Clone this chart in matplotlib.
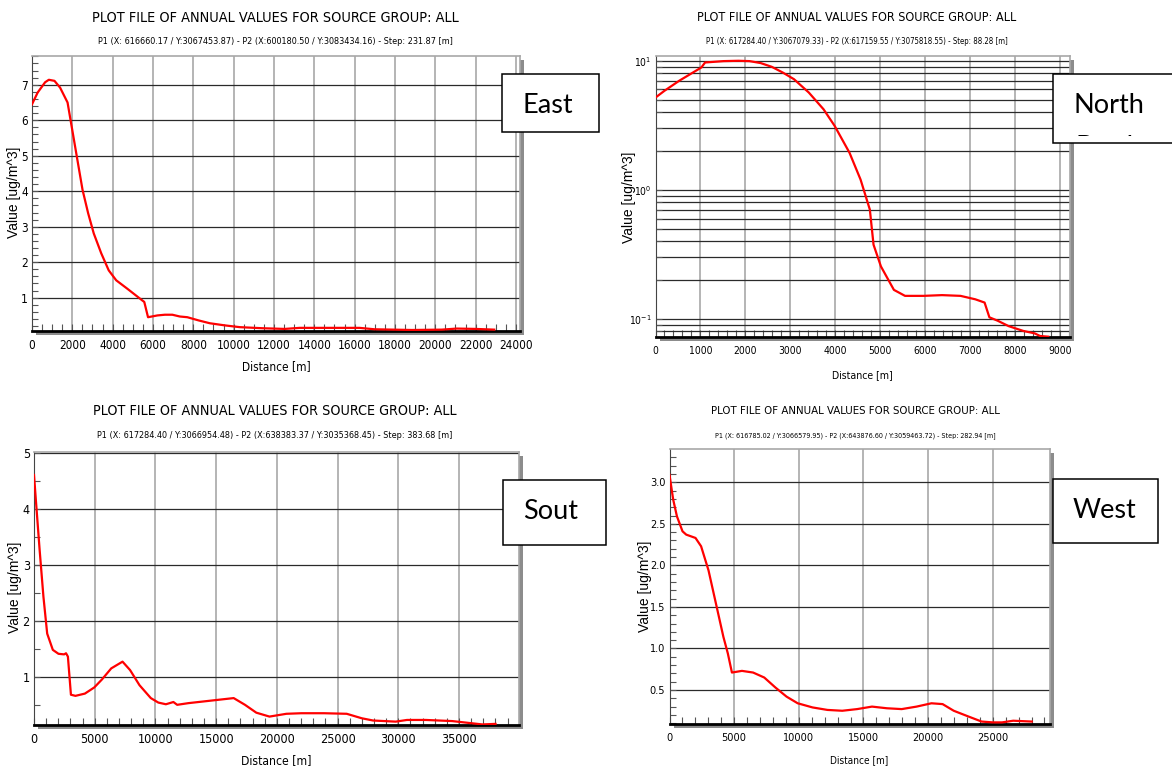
import matplotlib
matplotlib.use("Agg")
import matplotlib.pyplot as plt
from matplotlib import font_manager as fm
from matplotlib.patches import Rectangle
from matplotlib.ticker import (MultipleLocator, FormatStrFormatter, FuncFormatter,
                               LogLocator, NullFormatter)
import numpy as np

# narrowest sans available for the plot texts
_fonts = fm.fontManager.ttflist
if any(f.name == "Liberation Sans Narrow" for f in _fonts):
    NARROW, STRETCH = "Liberation Sans Narrow", "normal"
elif any(f.name == "DejaVu Sans" and f.stretch == "condensed" for f in _fonts):
    NARROW, STRETCH = "DejaVu Sans", "condensed"
else:
    NARROW, STRETCH = "Liberation Sans", "normal"
plt.rcParams["font.family"] = [NARROW, "DejaVu Sans"]
plt.rcParams["font.stretch"] = STRETCH
plt.rcParams["mathtext.fontset"] = "custom"
plt.rcParams["mathtext.rm"] = NARROW

TITLE = "PLOT FILE OF ANNUAL VALUES FOR SOURCE GROUP: ALL"
XLABEL = "Distance [m]"
YLABEL = "Value [ug/m^3]"

# annual concentration profiles along each transect
east_dist = [0, 280, 650, 835, 1114, 1392, 1763, 2134, 2506, 2784, 3063, 3434, 3805,
             4176, 4733, 5476, 5568, 5754, 6218, 6589, 6960, 7331, 7703, 8260, 8817,
             9559, 10302, 11415, 12529, 13271, 15128, 16241, 16984, 18840, 20325,
             21067, 21995, 22923]
east_val = [6.45, 6.78, 7.07, 7.14, 7.11, 6.92, 6.50, 5.27, 4.04, 3.38, 2.81, 2.25, 1.77,
            1.49, 1.25, 0.92, 0.88, 0.45, 0.50, 0.52, 0.52, 0.47, 0.45, 0.36, 0.28,
            0.22, 0.17, 0.14, 0.12, 0.15, 0.15, 0.15, 0.11, 0.09, 0.10,
            0.13, 0.12, 0.10]

north_dist = [0, 198, 527, 856, 1021, 1103, 1515, 1844, 2091, 2339, 2586, 2833, 3080,
              3409, 3738, 3985, 4315, 4562, 4768, 4850, 5015, 5303, 5550, 5962, 6374,
              6785, 7114, 7320, 7427, 7609, 7856, 8185, 8432, 8556, 8737]
north_val = [5.19, 5.85, 7.0, 8.2, 8.88, 9.7, 9.94, 10.0, 9.94, 9.6, 8.98, 8.1, 7.2,
             5.68, 4.21, 3.13, 1.94, 1.20, 0.703, 0.376, 0.255, 0.168, 0.151, 0.151, 0.153,
             0.151, 0.142, 0.134, 0.103, 0.097, 0.088, 0.0807, 0.0774, 0.0738, 0.0729]

south_dist = [0, 155, 465, 776, 1086, 1551, 2017, 2482, 2637, 2792, 3041, 3413, 4189,
              4964, 5585, 6361, 7136, 7291, 7912, 8688, 9619, 10239, 10860, 11480, 11790,
              12721, 13962, 15203, 16444, 17375, 18306, 19392, 20788, 22029, 23891,
              25752, 26993, 27924, 29786, 30717, 32268, 34440, 35681, 36922, 38008]
south_val = [4.61, 4.16, 3.27, 2.44, 1.78, 1.49, 1.42, 1.41, 1.43, 1.37, 0.69, 0.67, 0.71,
             0.82, 0.96, 1.16, 1.26, 1.28, 1.13, 0.86, 0.63, 0.55, 0.52, 0.56, 0.51,
             0.54, 0.57, 0.60, 0.63, 0.51, 0.37, 0.30, 0.35, 0.36, 0.36,
             0.35, 0.27, 0.23, 0.21, 0.24, 0.24, 0.22, 0.19, 0.16, 0.17]

west_dist = [0, 287, 575, 1006, 1293, 2011, 2443, 3017, 3592, 4167, 4511, 4828, 5603,
             6466, 7328, 8190, 9052, 9914, 11063, 12213, 13362, 14511, 15661, 16810,
             17960, 19109, 20259, 21121, 21983, 23132, 24138, 25000, 25718, 26580, 28017]
west_val = [3.09, 2.79, 2.59, 2.41, 2.37, 2.33, 2.23, 1.94, 1.54, 1.14, 0.94, 0.71, 0.73,
            0.71, 0.65, 0.53, 0.42, 0.34, 0.29, 0.26, 0.25, 0.27, 0.30, 0.28,
            0.27, 0.30, 0.34, 0.33, 0.25, 0.18, 0.12, 0.11, 0.11, 0.13, 0.12]

east_sub = "P1 (X: 616660.17 / Y:3067453.87) - P2 (X:600180.50 / Y:3083434.16) - Step: 231.87 [m]"
north_sub = "P1 (X: 617284.40 / Y:3067079.33) - P2 (X:617159.55 / Y:3075818.55) - Step: 88.28 [m]"
south_sub = "P1 (X: 617284.40 / Y:3066954.48) - P2 (X:638383.37 / Y:3035368.45) - Step: 383.68 [m]"
west_sub = "P1 (X: 616785.02 / Y:3066579.95) - P2 (X:643876.60 / Y:3059463.72) - Step: 282.94 [m]"

W, H = 1172, 769
fig = plt.figure(figsize=(W / 100, H / 100), dpi=100)
renderer = fig.canvas.get_renderer()


def fx(px):
    return px / W


def fy(py):
    return 1 - py / H


def fit(txt, width):
    w = txt.get_window_extent(renderer).width
    txt.set_fontsize(txt.get_fontsize() * width / w)


def panel(box, dist, val, xlim, ylim, xstep, xminor, ystep, yminor,
          tick_size, label_size, xlab_at, ylab_at, log=False, yfmt="%d"):
    l, t, r, b = box
    # grey drop shadow under the frame
    fig.add_artist(Rectangle((fx(l + 4), fy(b + 4)), (r - l) / W, (b - t) / H,
                             transform=fig.transFigure, facecolor="#8c8c8c",
                             edgecolor="none", zorder=-1))
    ax = fig.add_axes([fx(l), fy(b), (r - l) / W, (b - t) / H])
    ax.plot(dist, val, color="#ff0000", lw=1.6, zorder=3)
    ax.set_xlim(*xlim)
    if log:
        ax.set_yscale("log")
        ax.yaxis.set_major_locator(LogLocator(10))
        ax.yaxis.set_minor_locator(LogLocator(10, subs=range(2, 10)))
        ax.yaxis.set_minor_formatter(NullFormatter())
        ax.yaxis.set_major_formatter(FuncFormatter(
            lambda v, p: r"$\mathregular{10^{%d}}$" % round(np.log10(v))))
        ax.grid(axis="y", which="both", color="#2a2a2a", lw=0.9)
    else:
        ax.yaxis.set_major_locator(MultipleLocator(ystep))
        ax.yaxis.set_minor_locator(MultipleLocator(yminor))
        ax.yaxis.set_major_formatter(FormatStrFormatter(yfmt))
        ax.grid(axis="y", which="major", color="#2a2a2a", lw=0.9)
    ax.set_ylim(*ylim)
    ax.xaxis.set_major_locator(MultipleLocator(xstep))
    ax.xaxis.set_minor_locator(MultipleLocator(xminor))
    ax.xaxis.set_major_formatter(FormatStrFormatter("%d"))
    ax.grid(axis="x", which="major", color="#b4b4b4", lw=1.4)
    ax.set_axisbelow(True)

    ax.tick_params(axis="x", which="both", direction="in", length=5, width=0.8,
                   color="#555555", labelsize=tick_size, pad=6)
    ax.tick_params(axis="y", which="both", direction="in", length=4, width=0.8,
                   color="#555555", labelsize=tick_size, pad=3)
    ax.spines["bottom"].set_linewidth(2)
    ax.spines["bottom"].set_color("black")
    ax.spines["left"].set_color("#444444")
    for side in ("top", "right"):
        ax.spines[side].set_color("#a8a8a8")
        ax.spines[side].set_linewidth(1.2)

    ax.set_xlabel(XLABEL, fontsize=label_size, va="center")
    ax.xaxis.set_label_coords((xlab_at[0] - l) / (r - l), (b - xlab_at[1]) / (b - t))
    ax.set_ylabel(YLABEL, fontsize=10, family=["Liberation Sans", "DejaVu Sans"],
                  stretch="normal", va="center", ha="center")
    ax.yaxis.set_label_coords((ylab_at[0] - l) / (r - l), (b - ylab_at[1]) / (b - t))
    return ax


def heading(cx, cy, sub, title_w, sub_w):
    t1 = fig.text(fx(cx), fy(cy), TITLE, ha="center", va="center", fontsize=12)
    fit(t1, title_w)
    t2 = fig.text(fx(cx), fy(cy + 24), sub, ha="center", va="center", fontsize=8)
    fit(t2, sub_w)


def label_box(l, t, r, b, word, extra=None):
    rect = Rectangle((fx(l), fy(b)), (r - l) / W, (b - t) / H, transform=fig.transFigure,
                     facecolor="white", edgecolor="black", lw=1.1, zorder=5)
    fig.add_artist(rect)
    fig.text(fx(l + 20), fy(t + 39), word, ha="left", va="baseline", fontsize=19.5,
             family=["Lato", "DejaVu Sans"], stretch="normal", zorder=6)
    if extra:
        # second line of the caption, cut off by the frame
        clip = Rectangle((fx(l), fy(t + 62)), (r - l) / W, 62 / H,
                         transform=fig.transFigure, facecolor="none", edgecolor="none")
        fig.add_artist(clip)
        ex = fig.text(fx(l + 22), fy(t + 81), extra, ha="left", va="baseline",
                      fontsize=19.5, family=["Lato", "DejaVu Sans"], stretch="normal",
                      zorder=6)
        ex.set_clip_path(clip)


panel((32, 56, 520, 330.7), east_dist, east_val, (0, 24200), (0.07, 7.81),
      2000, 500, 1, 0.2, 8.5, 8.5, (276, 367), (14, 192))
panel((655.5, 56, 1070, 337.3), north_dist, north_val, (0, 9220),
      (10 ** -1.142, 10 ** 1.037), 1000, 200, None, None, 7.4, 7.6,
      (862, 375), (629, 197), log=True)
panel((34, 452, 518.5, 725), south_dist, south_val, (0, 39900), (0.15, 5.02),
      5000, 1000, 1, 0.5, 9, 8.7, (276, 761), (15, 587))
panel((669.5, 449.3, 1050.3, 724.3), west_dist, west_val, (0, 29450), (0.087, 3.397),
      5000, 1000, 0.5, 0.1, 7.8, 7.2, (859, 760), (645, 586), yfmt="%.1f")

heading(275, 17.5, east_sub, 367, 353)
heading(856.5, 17.5, north_sub, 318, 301)
heading(274.5, 411.5, south_sub, 364, 351)
heading(855, 411.5, west_sub, 290, 279)

label_box(502.3, 74, 599, 131.7, "East")
label_box(1053.3, 74, 1185, 143.3, "North", extra="Border")
label_box(503.3, 480, 606, 545, "Sout")
label_box(1052.7, 479, 1158.3, 542.7, "West")

fig.savefig("out.png", dpi=100)
